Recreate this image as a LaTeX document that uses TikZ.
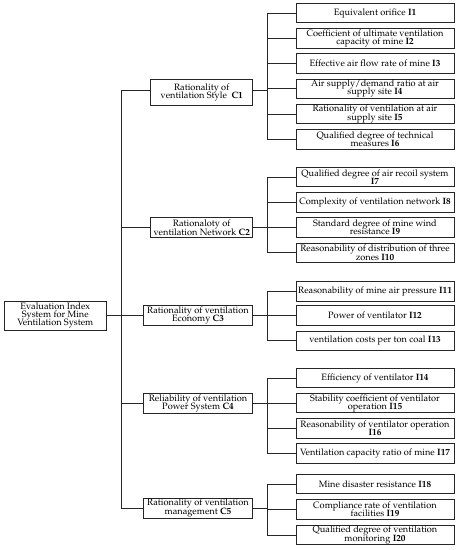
\documentclass[tikz,border=0pt]{standalone}
\usepackage[T1]{fontenc}
\renewcommand{\rmdefault}{ppl}
\begin{document}
\begin{tikzpicture}[x=1pt,y=-1pt,
  every node/.style={font={\fontsize{9.2}{8.2}\selectfont\lineskiplimit=-20pt\lineskip=0pt\relax}},
  box/.style={draw=black!85, line width=0.8pt, inner sep=0pt, align=center, fill=white},
  ibox/.style={box, minimum width=158pt, minimum height=19.5pt},
  cboxa/.style={box, minimum width=102pt, minimum height=20pt},
  cboxb/.style={box, minimum width=109.4pt, minimum height=20pt},
  link/.style={draw=black!85, line width=0.8pt}]
\useasboundingbox (0,0) rectangle (459,550);

% root
\node[box, minimum width=102.7pt, minimum height=29pt] (root) at (55.3,315.5)
  {Evaluation Index\\System for Mine\\Ventilation System};

% criteria
\node[cboxa, minimum height=25.5pt] (C1) at (201.7,92.25) {Rationality of\\ventilation Style\ \ \textbf{C1}};
\node[cboxa] (C2) at (201.7,227.7) {Rationaloty of\\ventilation Network \textbf{C2}};
\node[cboxb] (C3) at (198,315.5) {Rationality of ventilation\\Economy \textbf{C3}};
\node[cboxb] (C4) at (198,403.3) {Reliability of ventilation\\Power System \textbf{C4}};
\node[cboxb] (C5) at (198,508) {Rationality of ventilation\\management \textbf{C5}};

% indicators
\node[ibox] (I1) at (375,13) {Equivalent orifice \textbf{I1}};
\node[ibox] (I2) at (375,38.25) {Coefficient of ultimate ventilation\\capacity of mine \textbf{I2}};
\node[ibox] (I3) at (375,63.5) {Effective air flow rate of mine \textbf{I3}};
\node[ibox] (I4) at (375,88.75) {Air supply/demand ratio at air\\supply site \textbf{I4}};
\node[ibox] (I5) at (375,114) {Rationality of ventilation at air\\supply site \textbf{I5}};
\node[ibox] (I6) at (375,139.25) {Qualified degree of technical\\measures \textbf{I6}};

\node[ibox] (I7) at (375,177) {Qualified degree of air recoil system\\\textbf{I7}};
\node[ibox] (I8) at (375,202.3) {Complexity of ventilation network \textbf{I8}};
\node[ibox] (I9) at (375,227.5) {Standard degree of mine wind\\resistance \textbf{I9}};
\node[ibox] (I10) at (375,252.8) {Reasonability of distribution of three\\zones \textbf{I10}};

\node[ibox] (I11) at (375,291.2) {Reasonability of mine air pressure \textbf{I11}};
\node[ibox] (I12) at (375,315.6) {Power of ventilator \textbf{I12}};
\node[ibox] (I13) at (375,340.7) {ventilation costs per ton coal \textbf{I13}};

\node[ibox] (I14) at (375,378) {Efficiency of ventilator \textbf{I14}};
\node[ibox] (I15) at (375,403.1) {Stability coefficient of ventilator\\operation \textbf{I15}};
\node[ibox] (I16) at (375,428.5) {Reasonability of ventilator operation\\\textbf{I16}};
\node[ibox] (I17) at (375,453.5) {Ventilation capacity ratio of mine \textbf{I17}};

\node[ibox] (I18) at (375,484) {Mine disaster resistance \textbf{I18}};
\node[ibox] (I19) at (375,509.5) {Compliance rate of ventilation\\facilities \textbf{I19}};
\node[ibox] (I20) at (375,535) {Qualified degree of ventilation\\monitoring \textbf{I20}};

% trunk coordinates
\coordinate (tTop) at (121,90);
\coordinate (tBot) at (121,508);
\coordinate (g) at (267,90);

% root to trunk
\draw[link] (root.east) -- (root.east -| tTop);
\draw[link] (tTop) -- (tBot);

% trunk to criteria
\draw[link] (tTop) -- (tTop -| C1.west);
\draw[link] (C2.west -| tTop) -- (C2.west);
\draw[link] (C3.west -| tTop) -- (C3.west);
\draw[link] (C4.west -| tTop) -- (C4.west);
\draw[link] (C5.west -| tTop) -- (C5.west);

% C1 group
\draw[link] (C1.east |- g) -- (g);
\draw[link] (I1.west -| g) -- (I6.west -| g);
\foreach \n in {I1,I2,I3,I4,I5,I6} \draw[link] (\n.west -| g) -- (\n.west);

% C2 group
\draw[link] (C2.east) -- (C2.east -| g);
\draw[link] (I7.west -| g) -- (I10.west -| g);
\foreach \n in {I7,I8,I9,I10} \draw[link] (\n.west -| g) -- (\n.west);

% C3 group
\draw[link] (C3.east) -- (C3.east -| g);
\draw[link] (I11.west -| g) -- (I13.west -| g);
\foreach \n in {I11,I12,I13} \draw[link] (\n.west -| g) -- (\n.west);

% C4 group
\draw[link] (C4.east) -- (C4.east -| g);
\draw[link] (I14.west -| g) -- (I17.west -| g);
\foreach \n in {I14,I15,I16,I17} \draw[link] (\n.west -| g) -- (\n.west);

% C5 group
\draw[link] (C5.east) -- (C5.east -| g);
\draw[link] (I18.west -| g) -- (I20.west -| g);
\foreach \n in {I18,I19,I20} \draw[link] (\n.west -| g) -- (\n.west);
\end{tikzpicture}
\end{document}
